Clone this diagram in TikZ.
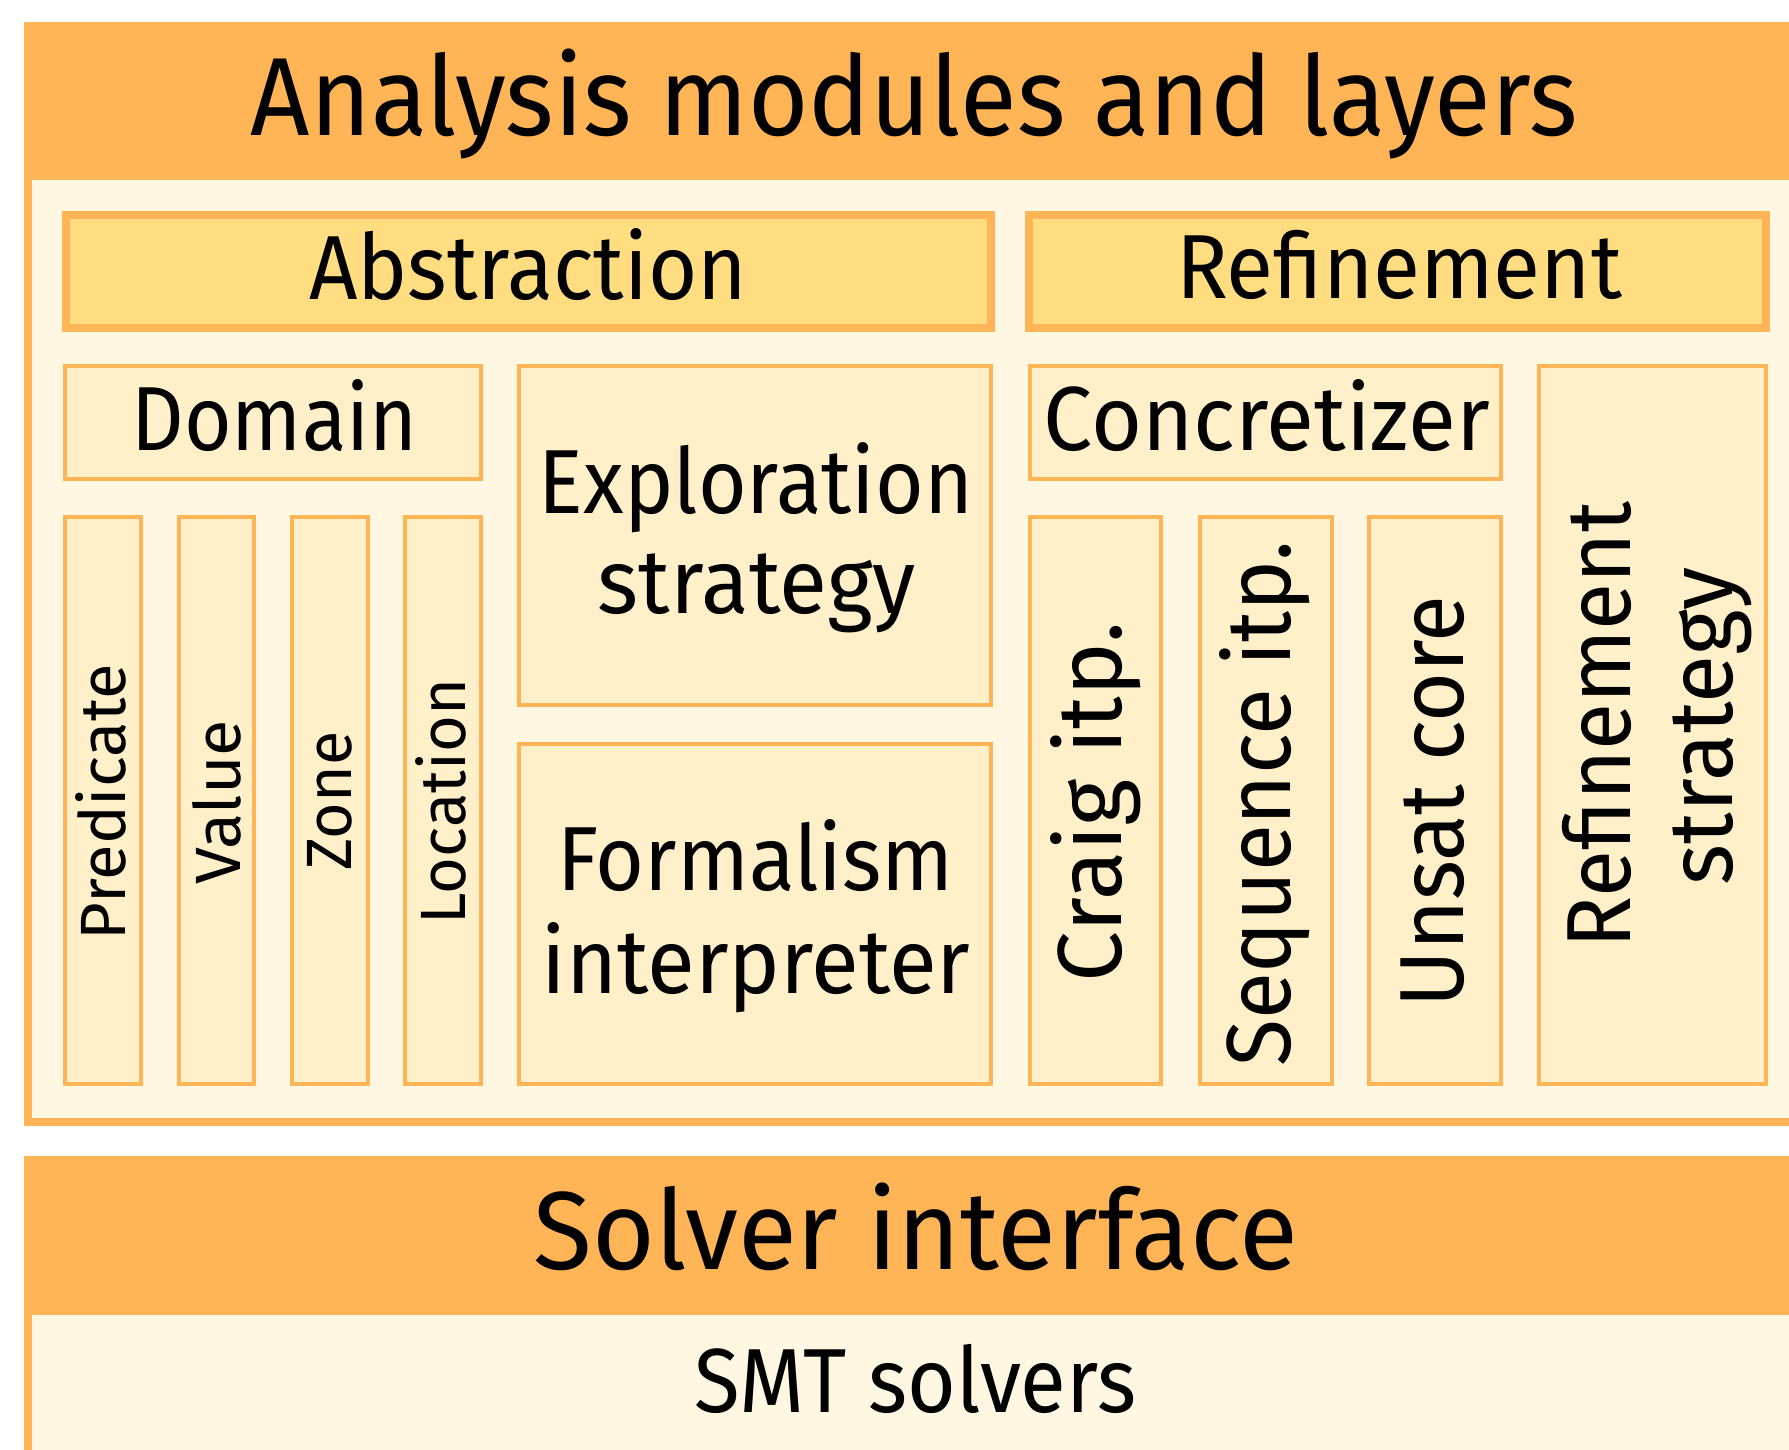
\documentclass[tikz,border=0pt]{standalone}
\usepackage{fontspec}
\setmainfont{Fira Sans}
\usepackage{graphicx}
\definecolor{orng}{HTML}{FFB555}
\definecolor{cream}{HTML}{FFF7E2}
\definecolor{boxfill}{HTML}{FFF0C9}
\definecolor{absfill}{HTML}{FFDD80}
\newcommand{\fw}[3]{\resizebox{#1pt}{\height}{\fontsize{#2}{#2}\selectfont #3}}
\tikzset{
  thickbox/.style={draw=orng, line width=8pt, fill=absfill, rectangle, inner sep=0pt, outer sep=0pt},
  thinbox/.style={draw=orng, line width=4pt, fill=boxfill, rectangle, inner sep=0pt, outer sep=0pt},
  lbl/.style={anchor=base, inner sep=0pt, outer sep=0pt, text=black},
  vlbl/.style={lbl, rotate=90}
}
\begin{document}
\begin{tikzpicture}[x=1pt, y=-1pt]
\useasboundingbox (0,0) rectangle (1789,1449);
\clip (0,0) rectangle (1789,1449);
\fill[white] (0,0) rectangle (1789,1449);
% upper frame
\fill[orng] (24,22) rectangle (1800,1126);
\fill[cream] (32,180) rectangle (1800,1118);
% solver frame
\fill[orng] (24,1156) rectangle (1800,1470);
\fill[cream] (32,1315) rectangle (1800,1470);
\node[lbl] (title) at (914.5,135) {\fw{1327}{111}{Analysis modules and layers}};
% abstraction / refinement bars
\node[thickbox, minimum width=925, minimum height=113] (abs) at (528.5,271.5) {};
\node[thickbox, minimum width=737, minimum height=113] (ref) at (1397.5,271.5) {};
\node[lbl] (abst) at (528,299) {\fw{438}{91}{Abstraction}};
\node[lbl] (reft) at (1399,298) {\fw{446}{91}{Refinement}};
% domain
\node[thinbox, minimum width=416, minimum height=113] (dom) at (273,422.5) {};
\node[lbl] (domt) at (274.5,450) {\fw{286}{91}{Domain}};
\node[thinbox, minimum width=76, minimum height=567] (pred) at (103,800.5) {};
\node[thinbox, minimum width=75, minimum height=567] (val) at (216.5,800.5) {};
\node[thinbox, minimum width=76, minimum height=567] (zone) at (330,800.5) {};
\node[thinbox, minimum width=76, minimum height=567] (loc) at (443,800.5) {};
\node[vlbl] (predt) at (125.5,802) {\fw{276}{64}{Predicate}};
\node[vlbl] (valt) at (240,802) {\fw{164}{64}{Value}};
\node[vlbl] (zonet) at (351,801) {\fw{139}{64}{Zone}};
\node[vlbl] (loct) at (465.5,801.5) {\fw{245}{64}{Location}};
% exploration / formalism
\node[thinbox, minimum width=472, minimum height=339] (expl) at (755,535.5) {};
\node[lbl] (explt1) at (756,513) {\fw{434}{91}{Exploration}};
\node[lbl] (explt2) at (757,613) {\fw{318}{91}{strategy}};
\node[thinbox, minimum width=472, minimum height=340] (form) at (755,914) {};
\node[lbl] (formt1) at (755.5,890) {\fw{396}{91}{Formalism}};
\node[lbl] (formt2) at (756,993) {\fw{429}{91}{interpreter}};
% concretizer
\node[thinbox, minimum width=471, minimum height=113] (conc) at (1265.5,422.5) {};
\node[lbl] (conct) at (1267,450) {\fw{446}{91}{Concretizer}};
\node[thinbox, minimum width=131, minimum height=567] (craig) at (1095.5,800.5) {};
\node[thinbox, minimum width=132, minimum height=567] (seq) at (1266,800.5) {};
\node[thinbox, minimum width=132, minimum height=567] (unsat) at (1435,800.5) {};
\node[vlbl] (craigt) at (1121,802) {\fw{360}{91}{Craig itp.}};
\node[vlbl] (seqt) at (1290,803.5) {\fw{526}{91}{Sequence itp.}};
\node[vlbl] (unsatt) at (1463,801.5) {\fw{412}{91}{Unsat core}};
% refinement strategy
\node[thinbox, minimum width=227, minimum height=718] (rstr) at (1652.5,725) {};
\node[vlbl] (rstrt1) at (1630,725) {\fw{446}{91}{Refinement}};
\node[vlbl] (rstrt2) at (1732,726) {\fw{318}{91}{strategy}};
% solver
\node[lbl] (solv) at (916,1269) {\fw{765}{111}{Solver interface}};
\node[lbl] (smt) at (915.5,1412) {\fw{442}{91}{SMT solvers}};
\end{tikzpicture}
\end{document}
